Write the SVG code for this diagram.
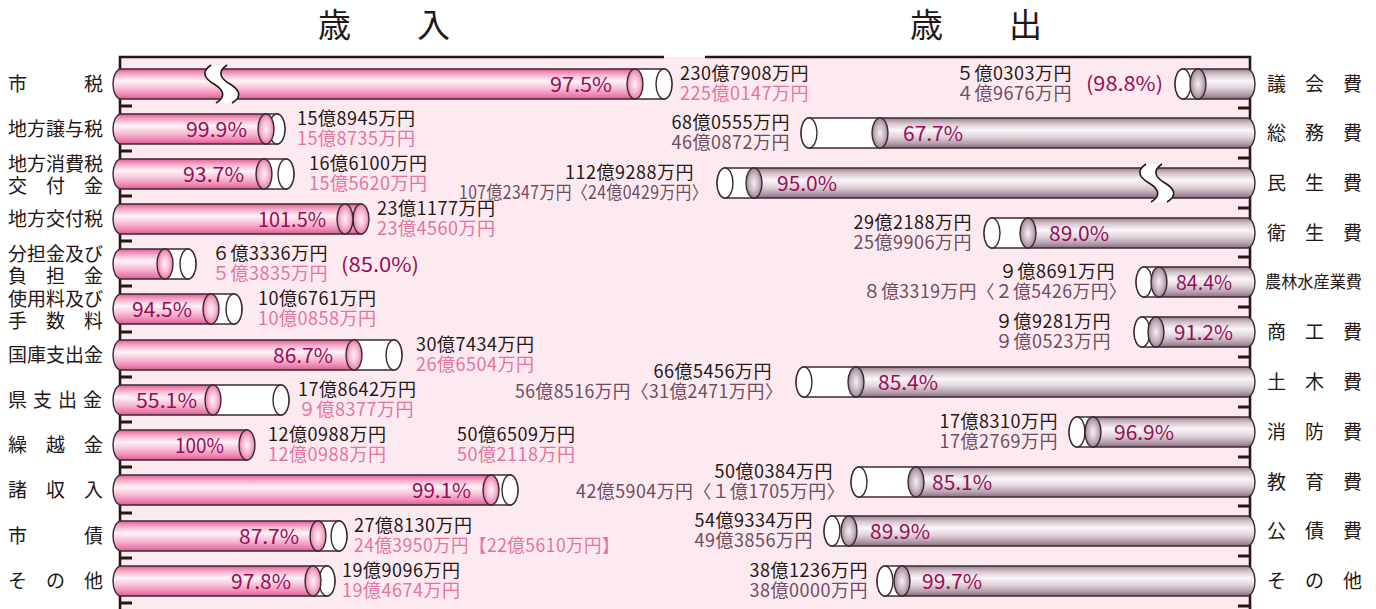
<svg xmlns="http://www.w3.org/2000/svg" width="1376" height="609" viewBox="0 0 1376 609">
<defs>
<linearGradient id="gPink" x1="0" y1="0" x2="0" y2="1">
<stop offset="0" stop-color="#e45f98"/><stop offset="0.18" stop-color="#f4abc9"/><stop offset="0.4" stop-color="#fef4f8"/><stop offset="0.62" stop-color="#f8c4d9"/><stop offset="0.85" stop-color="#ee88b3"/><stop offset="1" stop-color="#dc5b93"/>
</linearGradient>
<radialGradient id="gPinkEnd" cx="0.5" cy="0.5" r="0.6">
<stop offset="0" stop-color="#fff2f7"/><stop offset="0.5" stop-color="#f7b5d0"/><stop offset="1" stop-color="#dc5b93"/>
</radialGradient>
<linearGradient id="gGray" x1="0" y1="0" x2="0" y2="1">
<stop offset="0" stop-color="#9a7e8e"/><stop offset="0.18" stop-color="#d3c4cc"/><stop offset="0.4" stop-color="#faf6f8"/><stop offset="0.62" stop-color="#e2d6dc"/><stop offset="0.85" stop-color="#b39dab"/><stop offset="1" stop-color="#8a6d7e"/>
</linearGradient>
<radialGradient id="gGrayEnd" cx="0.5" cy="0.5" r="0.6">
<stop offset="0" stop-color="#f5f0f2"/><stop offset="0.5" stop-color="#c9b6c1"/><stop offset="1" stop-color="#866a7b"/>
</radialGradient>
<g id="brk">
<path d="M211,65 C199,73 207,80 214,84 C222,89 228,96 216,103 L232,103 C244,96 238,89 230,84 C223,80 215,73 227,65 Z" fill="#ffffff"/>
<path d="M211,65 C199,73 207,80 214,84 C222,89 228,96 216,103 M227,65 C215,73 223,80 230,84 C238,89 244,96 232,103" fill="none" stroke="#231815" stroke-width="1.6"/>
</g>
</defs>
<style>
.ax{stroke:#231815;stroke-width:2.6;fill:none}
.tk{stroke:#231815;stroke-width:3}
.cy{stroke:#3b2a33;stroke-width:1.4}
.pb{fill:url(#gPink)}
.pe{fill:url(#gPinkEnd)}
.gb{fill:url(#gGray)}
.ge{fill:url(#gGrayEnd)}
.wb{fill:#ffffff}
text{font-family:"Noto Sans CJK JP","Noto Sans",sans-serif;font-size:19px;fill:#231815}
.ttl{font-size:33px}
.m{font-size:18px;letter-spacing:0.5px}
.l2{fill:#e6739f}
.r2{fill:#6e4c5e}
.pc{fill:#9b0a57;font-size:20px}
.nr{font-size:16.5px}
.e{text-anchor:end}
</style>

<rect x="120" y="57" width="1131" height="552" fill="#fdeaf0"/>

<g id="axes">
<path class="ax" d="M120,609 V57 H664 M705,57 H1250 V609"/>
<path class="tk" d="M120,106H132M120,151H132M120,196H132M120,241H132M120,286H132M120,332H132M120,377H132M120,422H132M120,467H132M120,513H132M120,558H132M120,603H132"/>
<path class="tk" d="M1238,108H1251M1238,158H1251M1238,208H1251M1238,257H1251M1238,307H1251M1238,357H1251M1238,407H1251M1238,457H1251M1238,506H1251M1238,556H1251M1238,606H1251"/>
</g>

<g id="titles">
<text class="ttl" x="318" y="37">歳　　入</text>
<text class="ttl" x="910" y="37">歳　　出</text>
</g>

<g id="rev-labels">
<text x="8" y="91">市　　　税</text>
<text x="8" y="136">地方譲与税</text>
<text x="8" y="171">地方消費税</text>
<text x="8" y="193">交　付　金</text>
<text x="8" y="226">地方交付税</text>
<text x="8" y="261">分担金及び</text>
<text x="8" y="283">負　担　金</text>
<text x="8" y="306">使用料及び</text>
<text x="8" y="328">手　数　料</text>
<text x="8" y="362">国庫支出金</text>
<text x="8 33 58 83" y="407">県支出金</text>
<text x="8" y="452">繰　越　金</text>
<text x="8" y="497">諸　収　入</text>
<text x="8" y="543">市　　　債</text>
<text x="8" y="588">そ　の　他</text>
</g>

<g id="exp-labels">
<text x="1267" y="91">議　会　費</text>
<text x="1267" y="140">総　務　費</text>
<text x="1267" y="190">民　生　費</text>
<text x="1267" y="240">衛　生　費</text>
<text class="nr" x="1265" y="288" textLength="97" lengthAdjust="spacingAndGlyphs">農林水産業費</text>
<text x="1267" y="339">商　工　費</text>
<text x="1267" y="389">土　木　費</text>
<text x="1267" y="439">消　防　費</text>
<text x="1267" y="489">教　育　費</text>
<text x="1267" y="538">公　債　費</text>
<text x="1267" y="588">そ　の　他</text>
</g>

<!-- revenue cylinders -->
<g id="rev-shizei">
<path class="wb cy" d="M635,69 H664 A8 15 0 0 1 664,99 H635 Z"/><ellipse class="wb cy" cx="664" cy="84" rx="8" ry="15"/>
<path class="pb cy" d="M635,69 H121 A8 15 0 0 0 121,99 H635 Z"/><ellipse class="pe cy" cx="635" cy="84" rx="8" ry="15"/>
<use href="#brk"/>
<text class="pc e" x="612" y="92" textLength="62" lengthAdjust="spacingAndGlyphs">97.5%</text>
<text class="m" x="680" y="80">230億7908万円</text><text class="m l2" x="680" y="100">225億0147万円</text>
</g>
<g id="rev-joyozei">
<path class="wb cy" d="M266,114 H277 A8 15 0 0 1 277,144 H266 Z"/><ellipse class="wb cy" cx="277" cy="129" rx="8" ry="15"/>
<path class="pb cy" d="M266,114 H121 A8 15 0 0 0 121,144 H266 Z"/><ellipse class="pe cy" cx="266" cy="129" rx="8" ry="15"/>
<text class="pc e" x="247" y="137" textLength="61" lengthAdjust="spacingAndGlyphs">99.9%</text>
<text class="m" x="297" y="125">15億8945万円</text><text class="m l2" x="297" y="145">15億8735万円</text>
</g>
<g id="rev-shohizei">
<path class="wb cy" d="M264,159 H286 A8 15 0 0 1 286,189 H264 Z"/><ellipse class="wb cy" cx="286" cy="174" rx="8" ry="15"/>
<path class="pb cy" d="M264,159 H121 A8 15 0 0 0 121,189 H264 Z"/><ellipse class="pe cy" cx="264" cy="174" rx="8" ry="15"/>
<text class="pc e" x="244" y="182" textLength="61" lengthAdjust="spacingAndGlyphs">93.7%</text>
<text class="m" x="309" y="170">16億6100万円</text><text class="m l2" x="309" y="190">15億5620万円</text>
</g>
<g id="rev-kofuzei">
<path class="pb cy" d="M361,204 H121 A8 15 0 0 0 121,234 H361 Z"/><ellipse class="pe cy" cx="361" cy="219" rx="8" ry="15"/><ellipse class="pe cy" cx="345" cy="219" rx="8" ry="15"/>
<text class="pc e" x="326" y="227" textLength="68" lengthAdjust="spacingAndGlyphs">101.5%</text>
<text class="m" x="377" y="215">23億1177万円</text><text class="m l2" x="377" y="235">23億4560万円</text>
</g>
<g id="rev-buntan">
<path class="wb cy" d="M165,249 H188 A8 15 0 0 1 188,279 H165 Z"/><ellipse class="wb cy" cx="188" cy="264" rx="8" ry="15"/>
<path class="pb cy" d="M165,249 H121 A8 15 0 0 0 121,279 H165 Z"/><ellipse class="pe cy" cx="165" cy="264" rx="8" ry="15"/>
<text class="m" x="212" y="260">６億3336万円</text><text class="m l2" x="212" y="280">５億3835万円</text>
<text class="pc" x="341" y="272" textLength="78" lengthAdjust="spacingAndGlyphs">(85.0%)</text>
</g>
<g id="rev-shiyoryo">
<path class="wb cy" d="M211,294 H234 A8 15 0 0 1 234,324 H211 Z"/><ellipse class="wb cy" cx="234" cy="309" rx="8" ry="15"/>
<path class="pb cy" d="M211,294 H121 A8 15 0 0 0 121,324 H211 Z"/><ellipse class="pe cy" cx="211" cy="309" rx="8" ry="15"/>
<text class="pc e" x="192" y="317" textLength="60" lengthAdjust="spacingAndGlyphs">94.5%</text>
<text class="m" x="258" y="305">10億6761万円</text><text class="m l2" x="258" y="325">10億0858万円</text>
</g>
<g id="rev-kokko">
<path class="wb cy" d="M354,340 H394 A8 15 0 0 1 394,370 H354 Z"/><ellipse class="wb cy" cx="394" cy="355" rx="8" ry="15"/>
<path class="pb cy" d="M354,340 H121 A8 15 0 0 0 121,370 H354 Z"/><ellipse class="pe cy" cx="354" cy="355" rx="8" ry="15"/>
<text class="pc e" x="333" y="363" textLength="60" lengthAdjust="spacingAndGlyphs">86.7%</text>
<text class="m" x="416" y="351">30億7434万円</text><text class="m l2" x="416" y="371">26億6504万円</text>
</g>
<g id="rev-ken">
<path class="wb cy" d="M213,385 H281 A8 15 0 0 1 281,415 H213 Z"/><ellipse class="wb cy" cx="281" cy="400" rx="8" ry="15"/>
<path class="pb cy" d="M213,385 H121 A8 15 0 0 0 121,415 H213 Z"/><ellipse class="pe cy" cx="213" cy="400" rx="8" ry="15"/>
<text class="pc e" x="197" y="408" textLength="61" lengthAdjust="spacingAndGlyphs">55.1%</text>
<text class="m" x="298" y="396">17億8642万円</text><text class="m l2" x="298" y="416">９億8377万円</text>
</g>
<g id="rev-kurikoshi">
<path class="pb cy" d="M247,430 H121 A8 15 0 0 0 121,460 H247 Z"/><ellipse class="pe cy" cx="247" cy="445" rx="8" ry="15"/>
<text class="pc e" x="224" y="453" textLength="49" lengthAdjust="spacingAndGlyphs">100%</text>
<text class="m" x="268" y="441">12億0988万円</text><text class="m l2" x="268" y="461">12億0988万円</text>
</g>
<g id="rev-shoshunyu">
<path class="wb cy" d="M491,475 H510 A8 15 0 0 1 510,505 H491 Z"/><ellipse class="wb cy" cx="510" cy="490" rx="8" ry="15"/>
<path class="pb cy" d="M491,475 H121 A8 15 0 0 0 121,505 H491 Z"/><ellipse class="pe cy" cx="491" cy="490" rx="8" ry="15"/>
<text class="pc e" x="471" y="498" textLength="59" lengthAdjust="spacingAndGlyphs">99.1%</text>
<text class="m" x="457" y="441">50億6509万円</text><text class="m l2" x="457" y="461">50億2118万円</text>
</g>
<g id="rev-shisai">
<path class="wb cy" d="M318,521 H339 A8 15 0 0 1 339,551 H318 Z"/><ellipse class="wb cy" cx="339" cy="536" rx="8" ry="15"/>
<path class="pb cy" d="M318,521 H121 A8 15 0 0 0 121,551 H318 Z"/><ellipse class="pe cy" cx="318" cy="536" rx="8" ry="15"/>
<text class="pc e" x="299" y="544" textLength="60" lengthAdjust="spacingAndGlyphs">87.7%</text>
<text class="m" x="354" y="532">27億8130万円</text><text class="m l2" x="354" y="552" textLength="266" lengthAdjust="spacingAndGlyphs">24億3950万円【22億5610万円】</text>
</g>
<g id="rev-sonota">
<path class="wb cy" d="M313,566 H327 A8 15 0 0 1 327,596 H313 Z"/><ellipse class="wb cy" cx="327" cy="581" rx="8" ry="15"/>
<path class="pb cy" d="M313,566 H121 A8 15 0 0 0 121,596 H313 Z"/><ellipse class="pe cy" cx="313" cy="581" rx="8" ry="15"/>
<text class="pc e" x="291" y="589" textLength="60" lengthAdjust="spacingAndGlyphs">97.8%</text>
<text class="m" x="342" y="577">19億9096万円</text><text class="m l2" x="342" y="597">19億4674万円</text>
</g>

<!-- expenditure cylinders -->
<g id="exp-gikai">
<path class="wb cy" d="M1198,69 H1183 A8 15 0 0 0 1183,99 H1198 Z"/><ellipse class="wb cy" cx="1183" cy="84" rx="8" ry="15"/>
<path class="gb cy" d="M1198,69 H1247 A8 15 0 0 1 1247,99 H1198 Z"/><ellipse class="ge cy" cx="1198" cy="84" rx="8" ry="15"/>
<text class="m e" x="1072" y="80">５億0303万円</text><text class="m r2 e" x="1072" y="100">４億9676万円</text>
<text class="pc" x="1086" y="91" textLength="77" lengthAdjust="spacingAndGlyphs">(98.8%)</text>
</g>
<g id="exp-somu">
<path class="wb cy" d="M880,118 H809 A8 15 0 0 0 809,148 H880 Z"/><ellipse class="wb cy" cx="809" cy="133" rx="8" ry="15"/>
<path class="gb cy" d="M880,118 H1247 A8 15 0 0 1 1247,148 H880 Z"/><ellipse class="ge cy" cx="880" cy="133" rx="8" ry="15"/>
<text class="pc" x="903" y="141" textLength="60" lengthAdjust="spacingAndGlyphs">67.7%</text>
<text class="m e" x="790" y="129">68億0555万円</text><text class="m r2 e" x="790" y="149">46億0872万円</text>
</g>
<g id="exp-minsei">
<path class="wb cy" d="M754,168 H725 A8 15 0 0 0 725,198 H754 Z"/><ellipse class="wb cy" cx="725" cy="183" rx="8" ry="15"/>
<path class="gb cy" d="M754,168 H1247 A8 15 0 0 1 1247,198 H754 Z"/><ellipse class="ge cy" cx="754" cy="183" rx="8" ry="15"/>
<use href="#brk" transform="translate(935,99)"/>
<text class="pc" x="777" y="191" textLength="60" lengthAdjust="spacingAndGlyphs">95.0%</text>
<text class="m e" x="694" y="179">112億9288万円</text><text class="m r2 e" x="708" y="199" textLength="249" lengthAdjust="spacingAndGlyphs">107億2347万円〈24億0429万円〉</text>
</g>
<g id="exp-eisei">
<path class="wb cy" d="M1028,218 H992 A8 15 0 0 0 992,248 H1028 Z"/><ellipse class="wb cy" cx="992" cy="233" rx="8" ry="15"/>
<path class="gb cy" d="M1028,218 H1247 A8 15 0 0 1 1247,248 H1028 Z"/><ellipse class="ge cy" cx="1028" cy="233" rx="8" ry="15"/>
<text class="pc" x="1049" y="241" textLength="60" lengthAdjust="spacingAndGlyphs">89.0%</text>
<text class="m e" x="972" y="229">29億2188万円</text><text class="m r2 e" x="972" y="249">25億9906万円</text>
</g>
<g id="exp-norin">
<path class="wb cy" d="M1159,267 H1144 A8 15 0 0 0 1144,297 H1159 Z"/><ellipse class="wb cy" cx="1144" cy="282" rx="8" ry="15"/>
<path class="gb cy" d="M1159,267 H1247 A8 15 0 0 1 1247,297 H1159 Z"/><ellipse class="ge cy" cx="1159" cy="282" rx="8" ry="15"/>
<text class="pc" x="1176" y="290" textLength="56" lengthAdjust="spacingAndGlyphs">84.4%</text>
<text class="m e" x="1115" y="278">９億8691万円</text><text class="m r2 e" x="1127" y="298" textLength="264" lengthAdjust="spacingAndGlyphs">８億3319万円〈２億5426万円〉</text>
</g>
<g id="exp-shoko">
<path class="wb cy" d="M1156,317 H1142 A8 15 0 0 0 1142,347 H1156 Z"/><ellipse class="wb cy" cx="1142" cy="332" rx="8" ry="15"/>
<path class="gb cy" d="M1156,317 H1247 A8 15 0 0 1 1247,347 H1156 Z"/><ellipse class="ge cy" cx="1156" cy="332" rx="8" ry="15"/>
<text class="pc" x="1174" y="340" textLength="59" lengthAdjust="spacingAndGlyphs">91.2%</text>
<text class="m e" x="1111" y="328">９億9281万円</text><text class="m r2 e" x="1111" y="348">９億0523万円</text>
</g>
<g id="exp-doboku">
<path class="wb cy" d="M856,367 H804 A8 15 0 0 0 804,397 H856 Z"/><ellipse class="wb cy" cx="804" cy="382" rx="8" ry="15"/>
<path class="gb cy" d="M856,367 H1247 A8 15 0 0 1 1247,397 H856 Z"/><ellipse class="ge cy" cx="856" cy="382" rx="8" ry="15"/>
<text class="pc" x="878" y="390" textLength="60" lengthAdjust="spacingAndGlyphs">85.4%</text>
<text class="m e" x="772" y="378">66億5456万円</text><text class="m r2 e" x="783" y="398" textLength="268" lengthAdjust="spacingAndGlyphs">56億8516万円〈31億2471万円〉</text>
</g>
<g id="exp-shobo">
<path class="wb cy" d="M1093,417 H1077 A8 15 0 0 0 1077,447 H1093 Z"/><ellipse class="wb cy" cx="1077" cy="432" rx="8" ry="15"/>
<path class="gb cy" d="M1093,417 H1247 A8 15 0 0 1 1247,447 H1093 Z"/><ellipse class="ge cy" cx="1093" cy="432" rx="8" ry="15"/>
<text class="pc" x="1114" y="440" textLength="60" lengthAdjust="spacingAndGlyphs">96.9%</text>
<text class="m e" x="1058" y="428">17億8310万円</text><text class="m r2 e" x="1058" y="448">17億2769万円</text>
</g>
<g id="exp-kyoiku">
<path class="wb cy" d="M916,467 H859 A8 15 0 0 0 859,497 H916 Z"/><ellipse class="wb cy" cx="859" cy="482" rx="8" ry="15"/>
<path class="gb cy" d="M916,467 H1247 A8 15 0 0 1 1247,497 H916 Z"/><ellipse class="ge cy" cx="916" cy="482" rx="8" ry="15"/>
<text class="pc" x="932" y="490" textLength="60" lengthAdjust="spacingAndGlyphs">85.1%</text>
<text class="m e" x="833" y="478">50億0384万円</text><text class="m r2 e" x="845" y="498" textLength="269" lengthAdjust="spacingAndGlyphs">42億5904万円〈１億1705万円〉</text>
</g>
<g id="exp-kosai">
<path class="wb cy" d="M849,516 H832 A8 15 0 0 0 832,546 H849 Z"/><ellipse class="wb cy" cx="832" cy="531" rx="8" ry="15"/>
<path class="gb cy" d="M849,516 H1247 A8 15 0 0 1 1247,546 H849 Z"/><ellipse class="ge cy" cx="849" cy="531" rx="8" ry="15"/>
<text class="pc" x="870" y="539" textLength="60" lengthAdjust="spacingAndGlyphs">89.9%</text>
<text class="m e" x="813" y="527">54億9334万円</text><text class="m r2 e" x="813" y="547">49億3856万円</text>
</g>
<g id="exp-sonota">
<path class="wb cy" d="M902,566 H885 A8 15 0 0 0 885,596 H902 Z"/><ellipse class="wb cy" cx="885" cy="581" rx="8" ry="15"/>
<path class="gb cy" d="M902,566 H1247 A8 15 0 0 1 1247,596 H902 Z"/><ellipse class="ge cy" cx="902" cy="581" rx="8" ry="15"/>
<text class="pc" x="922" y="589" textLength="60" lengthAdjust="spacingAndGlyphs">99.7%</text>
<text class="m e" x="868" y="577">38億1236万円</text><text class="m r2 e" x="868" y="597">38億0000万円</text>
</g>
</svg>
